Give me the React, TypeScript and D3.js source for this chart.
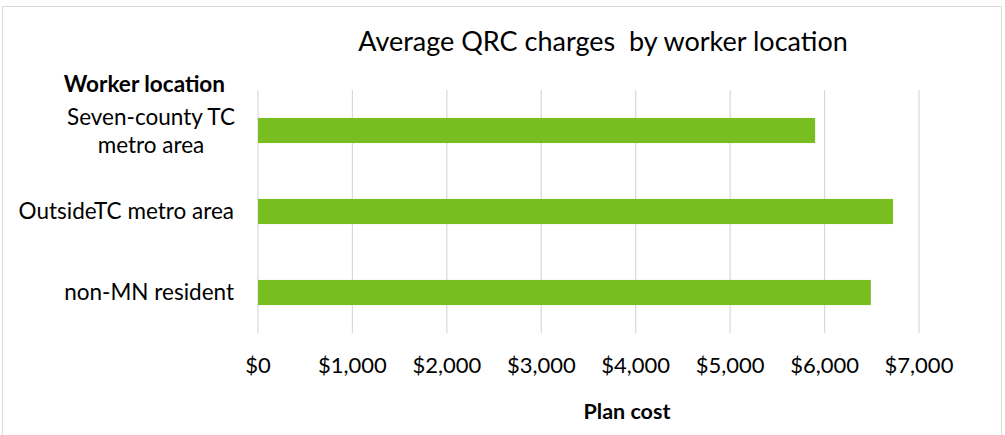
import React from "react";
import * as d3 from "d3";

const categories: string[][] = [["Seven-county TC", "metro area"], ["OutsideTC metro area"], ["non-MN resident"]];
const values: number[] = [5900, 6725, 6490];
const tickValues: number[] = [0, 1000, 2000, 3000, 4000, 5000, 6000, 7000];
const title = "Average QRC charges  by worker location";
const yTitle = "Worker location";
const xTitle = "Plan cost";

const W = 1005, H = 435;
const left = 258, right = 919, top = 90, bottom = 333;
const font = "Lato, 'Open Sans', sans-serif";

export default function App() {
  const x = d3.scaleLinear().domain([0, 7000]).range([left, right]);
  const y = d3.scaleBand<number>().domain(categories.map((_, i) => i)).range([top, bottom]).paddingInner(0.69).paddingOuter(0.345);
  const fmt = (v: number) => "$" + d3.format(",")(v);
  return (
    <svg width={W} height={H} style={{ position: "absolute", left: 0, top: 0 }}>
      <rect x={0} y={0} width={W} height={H} fill="#fff" />
      <rect x={2.5} y={6.5} width={999} height={430} fill="none" stroke="#d9d9d9" />
      <text x={603} y={51} textAnchor="middle" fontFamily={font} fontSize={27} fill="#000" style={{ whiteSpace: "pre" }}>{title}</text>
      {tickValues.map((t) => (
        <line key={t} x1={x(t)} x2={x(t)} y1={top} y2={bottom} stroke="#d9d9d9" strokeWidth={1.2} />
      ))}
      {values.map((v, i) => (
        <rect key={i} x={x(0)} y={y(i)} width={x(v) - x(0)} height={y.bandwidth()} fill="#78be21" />
      ))}
      {tickValues.map((t) => (
        <text key={t} x={x(t)} y={373} textAnchor="middle" fontFamily={font} fontSize={22} fill="#000">{fmt(t)}</text>
      ))}
      <text x={627} y={419} textAnchor="middle" fontFamily={font} fontSize={21.5} fontWeight="bold" fill="#000">{xTitle}</text>
      <text x={225} y={92} textAnchor="end" fontFamily={font} fontSize={22.5} fontWeight="bold" fill="#000">{yTitle}</text>
      {categories.map((lines, i) => {
        const cy = (y(i) as number) + y.bandwidth() / 2;
        if (lines.length === 1) {
          return <text key={i} x={234} y={cy + 7} textAnchor="end" fontFamily={font} fontSize={22.5} fill="#000">{lines[0]}</text>;
        }
        return (
          <text key={i} x={151} y={cy - 6} textAnchor="middle" fontFamily={font} fontSize={22.5} fill="#000">
            {lines.map((l, j) => (
              <tspan key={j} x={151} dy={j === 0 ? 0 : 28}>{l}</tspan>
            ))}
          </text>
        );
      })}
    </svg>
  );
}
